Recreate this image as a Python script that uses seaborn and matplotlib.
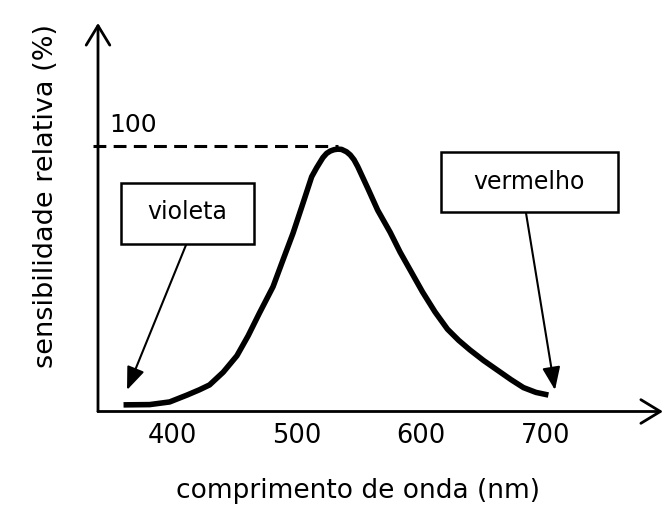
import numpy as np
import pandas as pd
import matplotlib
matplotlib.use("Agg")
import matplotlib.pyplot as plt
import seaborn as sns
from matplotlib.patches import Rectangle

sns.set_style("white")
plt.rcParams["font.family"] = ["DejaVu Sans"]
plt.rcParams["text.color"] = "black"
plt.rcParams["xtick.color"] = "black"

# curve (nm, % relative sensitivity)
wavelength = [361, 382, 398, 412, 422, 430, 441, 452, 461, 470, 481, 489, 497,
              505, 512, 516, 521, 524, 527, 530, 533, 536, 540, 543, 546, 549,
              557, 565, 575, 583, 592, 601, 611, 621, 630, 639, 650, 661, 672,
              682, 692, 702]
sensitivity = [2.5, 2.6, 3.6, 6.2, 8.2, 10.0, 14.8, 21.0, 28.5, 37.0, 47.0,
               57.1, 67.1, 78.4, 88.4, 91.8, 95.6, 97.2, 98.1, 98.6, 98.8, 98.7,
               97.8, 96.6, 94.8, 92.2, 84.1, 75.8, 67.5, 60.0, 52.5, 45.0, 37.5,
               31.0, 26.8, 23.2, 19.2, 15.6, 12.0, 9.0, 7.2, 6.2]
tick_values = [400, 500, 600, 700]
ref_level = 100
violet_tip = (363.8, 8.1)
red_tip = (707.3, 8.1)
box_labels = ["violeta", "vermelho"]
xlabel = "comprimento de onda (nm)"
ylabel = "sensibilidade relativa (%)"

W, H = 671, 509
fig = plt.figure(figsize=(W / 100, H / 100), dpi=100)


def fx(px):
    return px / W


def fy(py):
    return 1 - py / H


ax = fig.add_axes([fx(98), fy(411.5), fx(663) - fx(98), fy(23) - fy(411.5)])

df = pd.DataFrame({"nm": wavelength, "sens": sensitivity})
sns.lineplot(data=df, x="nm", y="sens", ax=ax, color="black", lw=4, sort=False,
             solid_joinstyle="round", solid_capstyle="butt")

ax.set_xlim(340.5, 794)
ax.set_ylim(0, 146.3)
for s in ax.spines.values():
    s.set_visible(False)
ax.set_xticks(tick_values)
ax.set_xticklabels([str(v) for v in tick_values])
ax.set_yticks([])
ax.tick_params(axis="x", length=0, pad=8.3, labelsize=18.5, colors="black")
ax.set_xlabel("")
ax.set_ylabel("")

# axes drawn as open arrows
axis_arrow = dict(arrowstyle="->,head_length=14,head_width=8.5", lw=2,
                  color="black", shrinkA=0, shrinkB=0, mutation_scale=1)
ax.annotate("", xy=(1, 0), xytext=(0, 0), xycoords="axes fraction",
            arrowprops=axis_arrow, annotation_clip=False)
ax.annotate("", xy=(0, 1), xytext=(0, 0), xycoords="axes fraction",
            arrowprops=axis_arrow, annotation_clip=False)

# dashed line at 100 up to the peak
peak_nm = wavelength[int(np.argmax(sensitivity))]
ax.plot([336.5, peak_nm], [ref_level, ref_level], color="black", lw=2.2,
        linestyle=(0, (4.2, 2.4)), clip_on=False)
fig.text(fx(109), fy(132), str(ref_level), fontsize=18, ha="left", va="baseline")

# label boxes
for (x0, y0, x1, y1) in [(121, 183, 254, 244), (441, 152, 618, 212)]:
    fig.add_artist(Rectangle((fx(x0), fy(y1)), fx(x1) - fx(x0), fy(y0) - fy(y1),
                             transform=fig.transFigure, fill=False, lw=1.8,
                             ec="black"))
fig.text(fx(187), fy(219.3), box_labels[0], fontsize=17, ha="center", va="baseline")
fig.text(fx(529), fy(189.3), box_labels[1], fontsize=17, ha="center", va="baseline")

pointer = dict(arrowstyle="-|>,head_length=14,head_width=5.5", lw=1.5,
               color="black", shrinkA=0, shrinkB=0, mutation_scale=1)
ax.annotate("", xy=violet_tip, xycoords="data", xytext=(fx(186), fy(245)),
            textcoords="figure fraction", arrowprops=pointer, annotation_clip=False)
ax.annotate("", xy=red_tip, xycoords="data", xytext=(fx(526), fy(213)),
            textcoords="figure fraction", arrowprops=pointer, annotation_clip=False)

fig.text(fx(358.5), fy(498.3), xlabel, fontsize=19, ha="center", va="baseline")
fig.text(fx(53), fy(195.5), ylabel, fontsize=19.5, rotation=90,
         rotation_mode="anchor", ha="center", va="baseline")

fig.savefig("out.png", dpi=100)
